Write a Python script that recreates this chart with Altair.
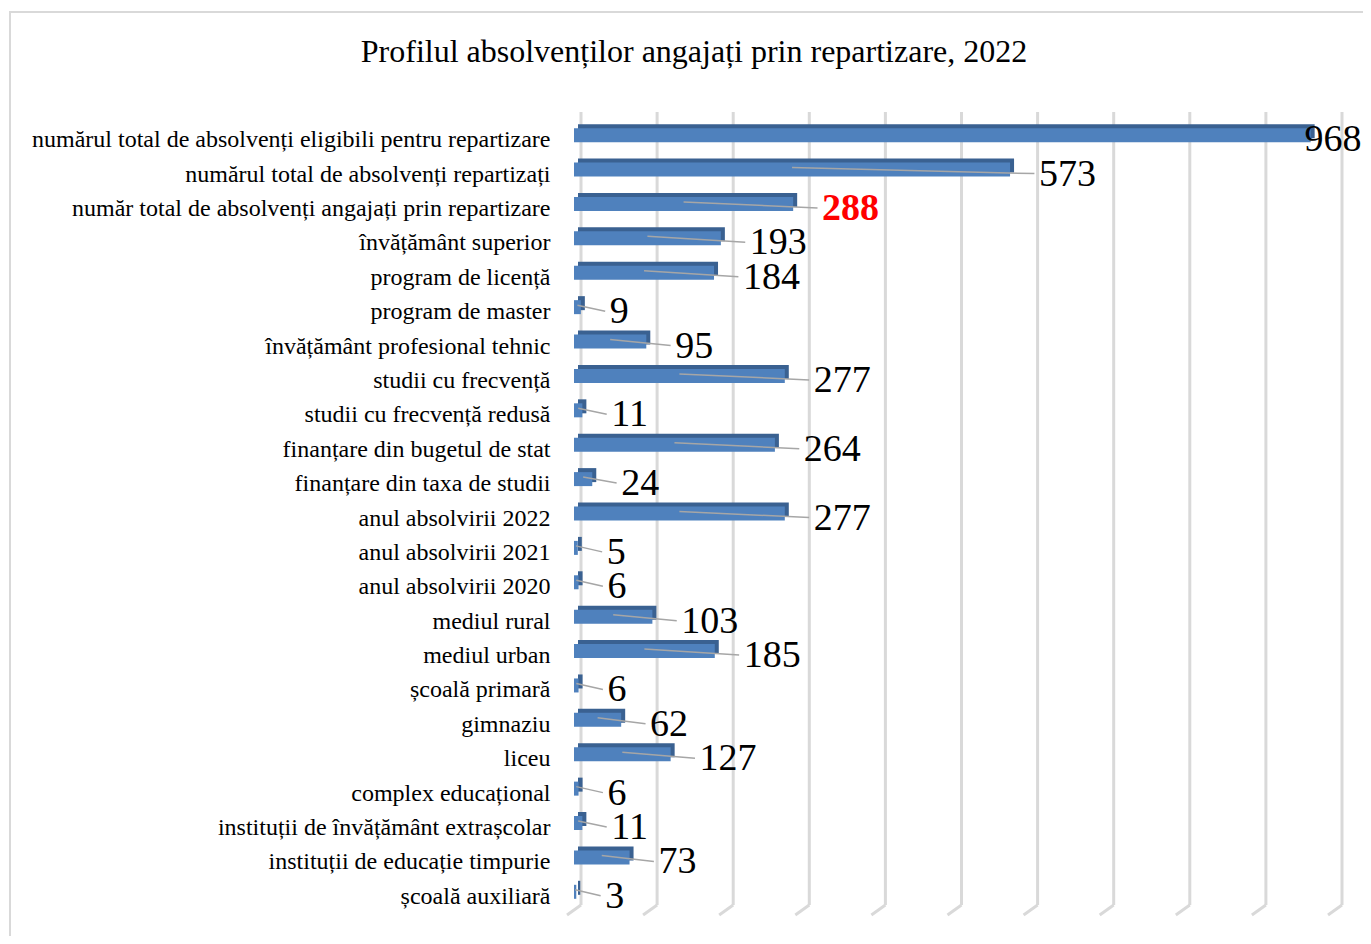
import altair as alt
import pandas as pd

categories = [
    "numărul total de absolvenți eligibili pentru repartizare",
    "numărul total de absolvenți repartizați",
    "număr total de absolvenți angajați prin repartizare",
    "învățământ superior",
    "program de licență",
    "program de master",
    "învățământ profesional tehnic",
    "studii cu frecvență",
    "studii cu frecvență redusă",
    "finanțare din bugetul de stat",
    "finanțare din taxa de studii",
    "anul absolvirii 2022",
    "anul absolvirii 2021",
    "anul absolvirii 2020",
    "mediul rural",
    "mediul urban",
    "școală primară",
    "gimnaziu",
    "liceu",
    "complex educațional",
    "instituții de învățământ extrașcolar",
    "instituții de educație timpurie",
    "școală auxiliară",
]
values = [968, 573, 288, 193, 184, 9, 95, 277, 11, 264, 24, 277, 5, 6, 103, 185, 6, 62, 127, 6, 11, 73, 3]
grid_ticks = [0, 100, 200, 300, 400, 500, 600, 700, 800, 900, 1000]
highlight = "număr total de absolvenți angajați prin repartizare"
title_text = "Profilul absolvenților angajați prin repartizare, 2022"

df = pd.DataFrame({"cat": categories, "v": values})
grid_df = pd.DataFrame({"t": grid_ticks})
frame_df = pd.DataFrame({"a": [0]})
title_df = pd.DataFrame({"title": [title_text]})

W, H = 761, 791
SERIF = "Liberation Serif"

xscale = alt.Scale(domain=[0, 1000], nice=False, zero=True)
yscale = alt.Scale(paddingInner=0.5, paddingOuter=0.25)
yenc = alt.Y(
    "cat:N",
    sort=categories,
    scale=yscale,
    title=None,
    axis=alt.Axis(
        domain=False,
        ticks=False,
        grid=False,
        labelFont=SERIF,
        labelFontSize=24,
        labelColor="black",
        labelPadding=24,
        labelLimit=700,
        labelOffset=5,
    ),
)

frame = alt.Chart(frame_df).mark_rect(fill=None, stroke="#D9D9D9", strokeWidth=2).encode(
    x=alt.value(-564), x2=alt.value(900), y=alt.value(-106), y2=alt.value(1000)
)

title = alt.Chart(title_df).mark_text(
    font=SERIF, fontSize=32, color="black", align="center", baseline="middle"
).encode(text="title:N", x=alt.value(120), y=alt.value(-66))

grid = alt.Chart(grid_df).mark_rule(color="#D9D9D9", strokeWidth=3, xOffset=7).encode(
    x=alt.X("t:Q", scale=xscale, axis=None), y=alt.value(-6), y2=alt.value(787)
)
feet = alt.Chart(grid_df).mark_rule(color="#D9D9D9", strokeWidth=3, xOffset=7, x2Offset=-7).encode(
    x=alt.X("t:Q", scale=xscale, axis=None), x2="t:Q", y=alt.value(787), y2=alt.value(797)
)

base = alt.Chart(df)

back = base.mark_bar(size=14, color="#3A6191", xOffset=4, x2Offset=4, yOffset=-4, y2Offset=-4).encode(
    x=alt.X("v:Q", scale=xscale, axis=None), y=yenc
)
front = base.mark_bar(size=14, color="#4F81BD").encode(
    x=alt.X("v:Q", scale=xscale, axis=None), y=yenc
)

leader = (
    base.transform_filter("datum.v < 900")
    .transform_calculate(xs="datum.v / 2", xe="datum.v + 32")
    .mark_rule(color="#A6A6A6", strokeWidth=1.5, yOffset=-2, y2Offset=4)
    .encode(
        x=alt.X("xs:Q", scale=xscale, axis=None),
        x2="xe:Q",
        y=yenc,
        y2="cat:N",
    )
)

labels = (
    base.transform_filter(alt.datum.cat != highlight)
    .transform_calculate(lx="datum.v > 900 ? datum.v - 8 : datum.v + 38")
    .mark_text(align="left", baseline="middle", font=SERIF, fontSize=38, color="black", dy=5)
    .encode(x=alt.X("lx:Q", scale=xscale, axis=None), y=yenc, text="v:Q")
)
labels_hl = (
    base.transform_filter(alt.datum.cat == highlight)
    .transform_calculate(lx="datum.v + 38")
    .mark_text(align="left", baseline="middle", font=SERIF, fontSize=38, fontWeight="bold", color="#FF0000", dy=5)
    .encode(x=alt.X("lx:Q", scale=xscale, axis=None), y=yenc, text="v:Q")
)

chart = (
    alt.layer(frame, title, grid, feet, back, front, leader, labels, labels_hl)
    .properties(
        width=W,
        height=H,
        padding={"left": 566, "top": 110, "right": 28, "bottom": 27},
        autosize=alt.AutoSizeParams(type="none"),
    )
    .configure_view(stroke=None)
)

chart.save("out.html", embed_options={"renderer": "svg", "actions": False})
